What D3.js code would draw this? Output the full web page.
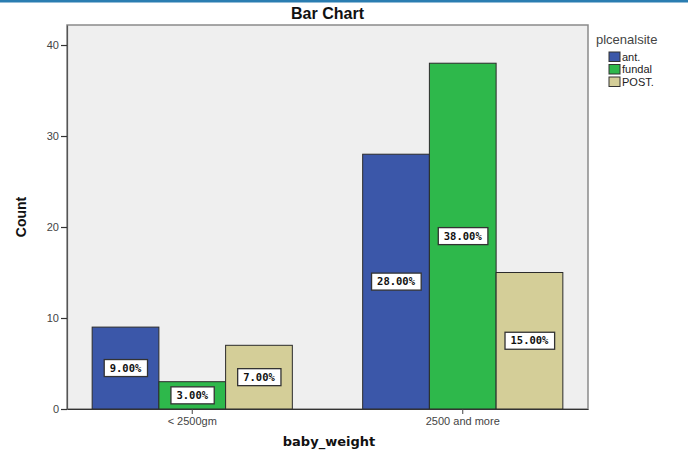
<!DOCTYPE html>
<html>
<head>
<meta charset="utf-8">
<script src="https://cdn.jsdelivr.net/npm/d3@7"></script>
<style>
body{margin:0;background:#fff;}
svg{display:block;}
</style>
</head>
<body>
<svg id="chart" width="688" height="456"></svg>
<script>
// data
var categories = ["< 2500gm", "2500 and more"];
var sites = ["ant.", "fundal", "POST."];
var antCounts = [9, 28];
var fundalCounts = [3, 38];
var postCounts = [7, 15];
var yTicks = [0, 10, 20, 30, 40];
var colors = ["#3b57a9", "#2eb84b", "#d4ce98"];
var total = 100;

var series = [antCounts, fundalCounts, postCounts];
var rows = [];
for(var i = 0; i < categories.length; i++){
	for(var j = 0; j < sites.length; j++){
		rows.push({cat: categories[i], site: sites[j], value: series[j][i]});
	}
}

var svg = d3.select("#chart");
var pLeft = 67, pRight = 588, pTop = 25, pBottom = 409;

// thin blue strip at top
svg.append("rect").attr("x",0).attr("y",0).attr("width",688).attr("height",2.5).attr("fill","#2a7db1");

var x0 = d3.scaleBand().domain(categories).range([pLeft, pRight]).paddingInner(0.26).paddingOuter(0.093);
var x1 = d3.scaleBand().domain(sites).range([0, x0.bandwidth()]);
var y = d3.scaleLinear().domain([0, 42.2]).range([pBottom, pTop]);
var color = d3.scaleOrdinal().domain(sites).range(colors);

// plot background
svg.append("rect")
	.attr("x",pLeft).attr("y",pTop)
	.attr("width",pRight-pLeft).attr("height",pBottom-pTop)
	.attr("fill","#efefef")
	.attr("stroke","#8a8a8a")
	.attr("stroke-width",1.5);

// bars
var g = svg.append("g");
g.selectAll("rect.bar")
	.data(rows)
	.enter()
	.append("rect")
	.attr("class","bar")
	.attr("x",function(d){return x0(d.cat) + x1(d.site);})
	.attr("y",function(d){return y(d.value);})
	.attr("width",x1.bandwidth())
	.attr("height",function(d){return y(0) - y(d.value);})
	.attr("fill",function(d){return color(d.site);})
	.attr("stroke","#2b2b2b")
	.attr("stroke-width",1);

// percent labels
var lab = g.selectAll("g.lab")
	.data(rows)
	.enter()
	.append("g")
	.attr("class","lab")
	.attr("transform",function(d){
		return "translate(" + (x0(d.cat) + x1(d.site) + x1.bandwidth()/2) + "," + ((y(0) + y(d.value))/2) + ")";
	});
lab.append("text")
	.attr("text-anchor","middle")
	.attr("dy","0.35em")
	.attr("font-family","DejaVu Sans Mono, monospace")
	.attr("font-weight","bold")
	.attr("font-size","10.5px")
	.attr("fill","#111")
	.text(function(d){return (d.value / total * 100).toFixed(2) + "%";});
lab.each(function(){
	var t = d3.select(this).select("text");
	var b = t.node().getBBox();
	d3.select(this).insert("rect","text")
		.attr("x",b.x - 5.5).attr("y",-8.5)
		.attr("width",b.width + 11).attr("height",17)
		.attr("fill","#fff")
		.attr("stroke","#333")
		.attr("stroke-width",1.3);
});

// axes
var xAxis = svg.append("g")
	.attr("transform","translate(0," + pBottom + ")")
	.call(d3.axisBottom(x0).tickSize(5).tickPadding(3).tickSizeOuter(0));
xAxis.select(".domain").attr("stroke","#333").attr("stroke-width",1.2);
xAxis.selectAll(".tick line").attr("stroke","#444");
xAxis.selectAll(".tick text").attr("font-family","Liberation Sans, Arial").attr("font-size","11px").attr("fill","#444");

var yAxis = svg.append("g")
	.attr("transform","translate(" + pLeft + ",0)")
	.call(d3.axisLeft(y).tickValues(yTicks).tickSize(6).tickPadding(2).tickSizeOuter(0));
yAxis.select(".domain").attr("stroke","#555").attr("stroke-width",1.2);
yAxis.selectAll(".tick line").attr("stroke","#333").attr("stroke-width",1.2);
yAxis.selectAll(".tick text").attr("font-family","Liberation Sans, Arial").attr("font-size","11px").attr("fill","#444");

// titles
svg.append("text")
	.attr("x",(pLeft+pRight)/2).attr("y",19)
	.attr("text-anchor","middle")
	.attr("font-family","Liberation Sans, Arial")
	.attr("font-weight","bold")
	.attr("font-size","16px")
	.attr("fill","#111")
	.text("Bar Chart");

svg.append("text")
	.attr("x",329).attr("y",446)
	.attr("text-anchor","middle")
	.attr("font-family","DejaVu Sans")
	.attr("font-weight","bold")
	.attr("font-size","13px")
	.attr("fill","#111")
	.text("baby_weight");

svg.append("text")
	.attr("transform","translate(26,217) rotate(-90)")
	.attr("text-anchor","middle")
	.attr("font-family","Liberation Sans, Arial")
	.attr("font-weight","bold")
	.attr("font-size","14px")
	.attr("fill","#111")
	.text("Count");

// legend
svg.append("text")
	.attr("x",596).attr("y",44)
	.attr("font-family","Liberation Sans, Arial")
	.attr("font-size","13px")
	.attr("fill","#444")
	.text("plcenalsite");

var leg = svg.selectAll("g.leg")
	.data(sites)
	.enter()
	.append("g")
	.attr("class","leg")
	.attr("transform",function(d,i){return "translate(609," + (52 + i*12.5) + ")";});
leg.append("rect")
	.attr("width",11).attr("height",9.5)
	.attr("fill",function(d){return color(d);})
	.attr("stroke","#333")
	.attr("stroke-width",1);
leg.append("text")
	.attr("x",13).attr("y",8.5)
	.attr("font-family","Liberation Sans, Arial")
	.attr("font-size","11px")
	.attr("fill","#222")
	.text(function(d){return d;});
</script>
</body>
</html>
